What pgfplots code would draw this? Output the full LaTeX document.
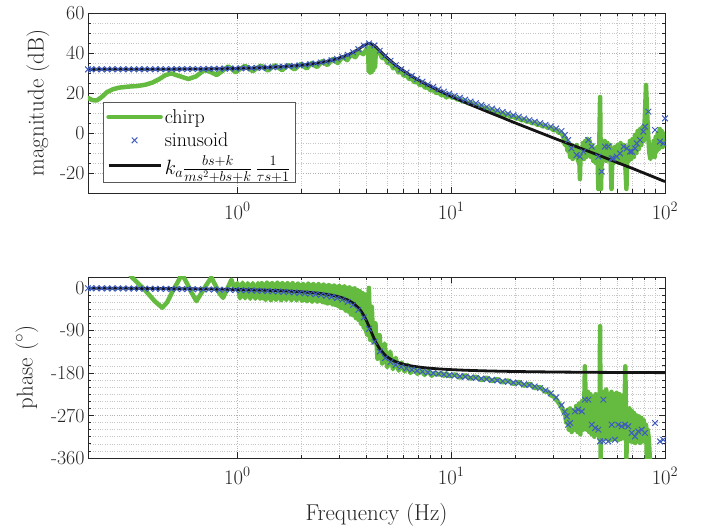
\documentclass[border=0pt]{standalone}
\usepackage{pgfplots}
\pgfplotsset{compat=1.18}
\definecolor{chirpgreen}{RGB}{101,186,64}
\definecolor{sinblue}{RGB}{62,92,190}
\definecolor{axgray}{RGB}{38,38,38}
\definecolor{modelblack}{RGB}{20,20,20}
\begin{document}
\begin{tikzpicture}
\useasboundingbox (0,0) rectangle (709bp,529bp);
% ---------------- magnitude ----------------
\begin{axis}[at={(88bp,336bp)}, anchor=south west,
  scale only axis, width=577bp, height=180bp, xmode=log, xmin=0.2, xmax=100,
  axis line style={axgray, line width=0.8bp},
  tick style={axgray, line width=0.7bp},
  major tick length=6bp, minor tick length=3.5bp, tick align=inside,
  xtick={1,10,100}, xticklabels={$10^{0}$,$10^{1}$,$10^{2}$},
  grid=both,
  major grid style={dotted, gray!60, line width=0.6bp},
  minor grid style={dotted, gray!45, line width=0.6bp},
  tick label style={font=\fontsize{20}{24}\selectfont, text=axgray},
  ymin=-30, ymax=60, ytick={-20,0,20,40,60}, yticklabels={-20,0,20,40,60},
  minor y tick num=3,
  xticklabel style={yshift=-6bp},
  ylabel={magnitude (dB)},
  every axis y label/.style={at={(axis description cs:-0.0867,0.5)}, rotate=90, anchor=center,
    font=\fontsize{23}{27}\selectfont, text=axgray},
  legend style={at={(0.026,0.056)}, anchor=south west, draw=gray!70!black, line width=0.7bp,
    fill=white, font=\fontsize{20}{24}\selectfont, inner xsep=3bp, inner ysep=5bp, row sep=4bp},
  legend cell align=left,
]
\addplot[chirpgreen, line width=4.5bp, line join=round, line cap=round,
  legend image code/.code={\draw[chirpgreen, line width=4.5bp] (0bp,0bp) -- (52bp,0bp);}] coordinates {
(0.2,17.5) (0.21,16.4) (0.22,16.3) (0.232,18.0) (0.245,20.4) (0.262,21.9) (0.28,22.7) (0.31,23.2) (0.34,23.5) (0.37,24.1) (0.40,25.2) (0.43,26.9) (0.46,28.9) (0.49,29.8)
(0.53,28.6) (0.59,27.0) (0.64,28.3) (0.70,31.5) (0.75,30.5) (0.80,29.0) (0.85,31.0) (0.906,33.3) (0.94,32.0) (0.98,30.3) (1.03,32.0) (1.085,33.6) (1.13,32.2) (1.18,30.9) (1.24,32.6) (1.29,33.7) (1.34,32.3) (1.39,31.2) (1.45,32.8) (1.50,33.9) (1.56,32.5) (1.62,31.4) (1.68,33.0) (1.73,34.1) (1.79,32.8) (1.85,31.8) (1.92,33.4) (1.98,34.5) (2.05,33.2) (2.11,32.3) (2.17,33.8) (2.23,35.0) (2.30,33.7) (2.36,33.0) (2.43,34.6) (2.49,35.9) (2.57,34.7) (2.64,34.0) (2.72,35.7) (2.79,37.0) (2.87,35.8) (2.95,35.0) (3.04,36.8) (3.12,38.0) (3.19,37.2) (3.26,36.4) (3.34,38.0) (3.41,39.3) (3.48,38.5) (3.56,37.9) (3.64,39.5) (3.72,40.8) (3.80,40.0) (3.88,39.4) (3.97,41.0) (4.06,42.6) (4.09,41.0) (4.11,31.0) (4.14,42.8) (4.17,30.2) (4.20,43.0) (4.24,30.5) (4.28,42.8) (4.32,31.5) (4.36,42.4) (4.40,33.0) (4.45,42.0)
(4.55,40.0) (4.63,40.1) (4.75,37.4) (4.91,37.5) (5.05,34.8) (5.20,35.1) (5.35,32.4) (5.51,32.9) (5.67,30.3) (5.83,30.9) (6.0,28.6) (6.18,29.1) (6.36,26.9) (6.54,27.4) (6.73,25.3) (6.93,25.85) (7.13,23.9) (7.34,24.4) (7.55,22.6) (7.78,23.0) (8.0,21.3) (8.24,21.6) (8.5,20.0) (8.73,20.3) (9.0,18.9) (9.24,19.2) (9.5,17.8) (9.79,19.0) (10.1,17.6) (10.37,18.1) (10.7,16.6) (10.98,17.1) (11.3,15.7) (11.63,16.1) (12.0,14.8) (12.32,15.2) (12.7,13.9) (13.05,14.3) (13.4,13.0) (13.83,13.4) (14.2,12.2) (14.65,12.5) (15.1,11.3) (15.52,11.6) (16.0,10.5) (16.43,10.8) (16.9,9.6) (17.41,9.9) (17.9,8.8) (18.44,9.1) (19.0,8.0) (19.53,8.3) (20.1,7.2) (20.69,7.5) (21.3,6.4) (21.92,6.6) (22.55,5.7) (23.21,5.9) (23.9,4.9) (24.59,5.1) (25.3,4.1) (26.05,4.3) (26.8,3.3) (27.59,3.5) (28.4,2.5) (29.23,2.6) (30.1,1.4) (30.96,1.6) (31.8,0.2) (32.8,0.0)
(33.5,-2) (34.0,-6) (34.5,-3) (35.0,-9) (35.5,-5) (36.0,-12) (36.5,-6) (37.0,-13) (37.5,-7) (38.0,-12) (38.6,-6) (39.2,-14) (39.6,-8) (40.0,-23) (40.3,-9) (40.8,-13) (41.3,-5) (41.8,-13) (42.3,-4) (42.8,-12) (43.3,-3) (43.8,-10) (44.4,-4) (45.0,-12) (45.6,-6) (46.2,-14) (46.8,-8) (47.5,-15) (48.2,-7) (48.8,-28) (49.2,-10) (49.7,18) (50.2,-28) (50.7,-6) (51.5,-13) (52.3,-4) (53.0,-14) (53.8,-5) (54.6,-13) (55.4,-6) (56.2,-28) (56.8,-9) (57.5,-15) (58.3,-7) (59.2,-13) (60.0,-6) (61.0,-15) (62.0,-5) (63.0,-14) (64.0,-6) (65.0,-13) (66.0,-28) (66.8,-7) (67.6,-14) (68.5,-4) (69.5,-13) (70.5,-3) (71.5,-12) (72.5,-1) (73.5,-10) (74.5,1) (75.5,-8) (76.5,2) (77.5,-6) (78.5,3) (79.5,-4) (80.5,8) (81.5,24) (82.5,10) (83.5,-2) (84.5,-10) (85.5,-13) (86.5,-6) (87.5,-11) (88.5,-4) (89.5,-12) (90.5,-2) (91.5,-9) (92.5,0) (93.5,-8) (94.5,2) (95.5,-6) (96.5,1) (97.5,-7) (98.5,0) (100,-4)
};
\addlegendentry{chirp}
\addplot[only marks, mark=x, mark size=4bp, sinblue, mark options={line width=1bp},
  legend image code/.code={\draw[sinblue, line width=1bp] plot[mark=x, mark size=4bp] coordinates {(26bp,0bp)};}] coordinates {
(0.200,31.82) (0.207,31.82) (0.219,31.82) (0.232,31.83) (0.246,31.83) (0.260,31.83) (0.276,31.84) (0.292,31.84) (0.310,31.85) (0.328,31.85) (0.347,31.86) (0.368,31.87) (0.390,31.87) (0.413,31.88) (0.437,31.89) (0.463,31.90) (0.491,31.92) (0.520,31.93) (0.551,31.95) (0.583,31.96) (0.618,31.98) (0.654,32.01) (0.693,32.03) (0.734,32.06) (0.778,32.09) (0.824,32.13) (0.872,32.17) (0.924,32.22) (0.979,32.27) (1.037,32.33) (1.098,32.40) (1.163,32.47) (1.232,32.56) (1.305,32.65) (1.383,32.76) (1.465,32.89) (1.551,33.03) (1.643,33.19) (1.741,33.38) (1.844,33.59) (1.953,33.83) (2.069,34.11) (2.192,34.43) (2.321,34.81) (2.459,35.25) (2.605,35.77) (2.759,36.39) (2.923,37.12) (3.096,38.00) (3.279,39.07) (3.473,40.36) (3.679,41.88) (3.897,43.70) (4.128,44.80) (4.373,43.80) (4.632,41.12) (4.906,38.54) (5.197,36.11) (5.505,33.91) (5.831,31.92) (6.177,30.20) (6.543,28.57) (6.931,27.05) (7.341,25.65) (7.776,24.30) (8.237,23.05) (8.725,21.84) (9.242,20.70) (9.790,19.65) (10.37,18.60) (10.98,17.62) (11.63,16.67) (12.32,15.73) (13.05,14.87) (13.83,14.00) (14.65,13.10) (15.52,12.24) (16.43,11.37) (17.41,10.50) (18.44,9.70) (19.53,8.90) (20.69,8.05) (21.92,7.20) (23.21,6.45) (24.59,5.65) (26.05,4.90) (27.59,4.10) (29.23,3.20) (30.96,2.25) (32.79,1.00) (34.0,-1.0) (35.2,-3.5) (36.5,-7.7)
(38.6,-11) (40.0,-11.8) (41.5,-9.3) (43.8,-3.5) (45.4,-6.8) (48.8,-11.8) (50.5,-19.3) (52.3,-6.8) (54.3,-6.8) (56.3,-12.7) (57.3,-12.7) (59.5,-11.8) (61.6,-10.2) (64.0,-6.8) (66.2,-7.7) (68.6,-9.3) (69.9,-9.3) (72.4,-7.7) (73.8,-5.2) (76.4,-3.5) (79.2,0.7) (80.6,3.2) (83.6,10.7) (89.8,1.5) (94.8,-4.3) (98.2,-5.2) (100,7.3)
};
\addlegendentry{sinusoid}
\addplot[modelblack, line width=2.8bp, line join=round,
  legend image code/.code={\draw[modelblack, line width=2.8bp] (0bp,0bp) -- (52bp,0bp);}] coordinates {
(0.2,31.82) (0.246,31.83) (0.310,31.85) (0.390,31.87) (0.491,31.92) (0.618,31.98) (0.778,32.09) (0.979,32.27) (1.232,32.56) (1.551,33.03) (1.953,33.83) (2.069,34.11) (2.192,34.43) (2.321,34.81) (2.459,35.25) (2.605,35.77) (2.759,36.39) (2.923,37.12) (3.096,38.00) (3.279,39.07) (3.473,40.36) (3.679,41.88) (3.8,42.9) (3.897,43.62) (4.0,44.35) (4.1,44.73) (4.2,44.70) (4.3,44.23) (4.45,42.99) (4.632,41.12) (4.906,38.54) (5.197,36.11) (5.505,33.91) (5.831,31.92) (6.177,30.11) (6.543,28.42) (6.931,26.85) (7.341,25.37) (7.776,23.95) (8.237,22.60) (8.725,21.29) (9.242,20.03) (9.790,18.80) (10.98,16.42) (12.32,14.13) (13.83,11.91) (15.52,9.74) (17.41,7.60) (19.53,5.40) (21.92,3.30) (24.59,1.20) (27.59,-0.90) (30.96,-3.00) (40,-7.5) (50,-11.5) (60,-14.85) (70,-17.6) (80,-20.1) (90,-22.3) (100,-24.3)
};
\addlegendentry{$k_a\frac{bs+k}{ms^2+bs+k}\,\frac{1}{\tau s+1}$}
\end{axis}
% ---------------- phase ----------------
\begin{axis}[at={(88bp,71bp)}, anchor=south west,
  scale only axis, width=577bp, height=181bp, xmode=log, xmin=0.2, xmax=100,
  axis line style={axgray, line width=0.8bp},
  tick style={axgray, line width=0.7bp},
  major tick length=6bp, minor tick length=3.5bp, tick align=inside,
  xtick={1,10,100}, xticklabels={$10^{0}$,$10^{1}$,$10^{2}$},
  grid=both,
  major grid style={dotted, gray!60, line width=0.6bp},
  minor grid style={dotted, gray!45, line width=0.6bp},
  tick label style={font=\fontsize{20}{24}\selectfont, text=axgray},
  ymin=-360, ymax=23, ytick={-360,-270,-180,-90,0}, yticklabels={-360,-270,-180,-90,0},
  minor y tick num=5,
  xticklabel style={yshift=-6bp},
  ylabel={phase ($^\circ$)}, xlabel={Frequency (Hz)},
  every axis y label/.style={at={(axis description cs:-0.106,0.5)}, rotate=90, anchor=center,
    font=\fontsize{23}{27}\selectfont, text=axgray},
  every axis x label/.style={at={(axis description cs:0.5,-0.315)}, anchor=center,
    font=\fontsize{23}{27}\selectfont, text=axgray},
]
\addplot[chirpgreen, line width=4.5bp, line join=round, line cap=round] coordinates {
(0.30,45) (0.32,23) (0.37,-5) (0.41,-28) (0.445,-42) (0.47,-30) (0.50,-5) (0.53,15) (0.549,30) (0.58,10) (0.61,-10) (0.643,-28) (0.68,-10) (0.72,8) (0.755,22) (0.79,5) (0.825,-12) (0.857,-21) (0.89,-5) (0.937,17) (0.97,-2)
(1.000,10) (1.028,-22) (1.057,11) (1.086,-22) (1.117,10) (1.148,-23) (1.180,10) (1.213,-23) (1.247,10) (1.275,-23)
(1.300,10) (1.318,-22) (1.337,7) (1.355,-25) (1.374,11) (1.393,-21) (1.413,8) (1.433,-26) (1.453,10) (1.473,-22) (1.494,7) (1.515,-25) (1.536,11) (1.557,-21) (1.579,8) (1.601,-26) (1.624,10) (1.646,-22) (1.669,7) (1.693,-25) (1.716,10) (1.740,-21) (1.765,7) (1.789,-26) (1.814,10) (1.840,-22) (1.866,6) (1.892,-26) (1.918,9) (1.945,-22) (1.972,6) (2.000,-27)
(2.028,8) (2.056,-25) (2.085,5) (2.114,-28) (2.144,9) (2.174,-25) (2.204,6) (2.235,-29) (2.266,8) (2.298,-26) (2.330,5) (2.363,-29) (2.396,8) (2.429,-27) (2.463,5) (2.498,-30) (2.533,7) (2.568,-31) (2.604,4) (2.641,-33) (2.678,6) (2.715,-32) (2.753,3) (2.792,-35) (2.831,5) (2.871,-36) (2.911,2) (2.952,-38) (2.993,4)
(3.035,-42) (3.077,1) (3.120,-43) (3.164,3) (3.208,-48) (3.253,0) (3.299,-50) (3.345,1) (3.392,-56) (3.440,-2) (3.488,-58) (3.537,-1) (3.586,-64) (3.636,-5) (3.687,-68) (3.739,-7) (3.791,-76) (3.844,-11) (3.898,-84) (3.953,-14) (4.008,-92) (4.05,-100)
(4.12,0) (4.18,-110) (4.25,-40) (4.32,-115) (4.42,-75) (4.52,-150) (4.62,-100) (4.75,-160) (4.88,-118) (5.02,-168) (5.18,-135) (5.34,-172) (5.5,-148) (5.68,-175) (5.86,-158) (6.05,-177) (6.25,-163) (6.45,-180) (6.7,-168) (6.95,-182) (7.2,-172) (7.5,-184) (7.8,-176) (8.1,-186) (8.4,-179)
(8.73,-184) (9.0,-180) (9.24,-186) (9.5,-181) (9.79,-187) (10.4,-183) (10.98,-190) (11.6,-185) (12.32,-192) (13.0,-188) (13.83,-195) (14.6,-190) (15.5,-197) (16.4,-193) (17.4,-200) (18.4,-196) (19.5,-203) (20.7,-199) (21.9,-207) (23.2,-203) (24.6,-212) (26.0,-210) (27.6,-220) (28.4,-219) (29.2,-227) (30.1,-230) (31.0,-236) (32.0,-245) (32.8,-252) (33.5,-262) (34.2,-270)
(34.5,-285) (35.0,-258) (35.5,-300) (36.0,-255) (36.6,-305) (37.2,-260) (37.8,-300) (38.4,-250) (39.0,-305) (39.6,-245) (40.2,-310) (40.8,-240) (41.4,-300) (42.0,-225) (42.2,-166) (42.5,-230) (43.0,-300) (43.6,-220) (44.2,-305) (44.8,-225) (45.4,-310) (46.0,-230) (46.7,-315) (47.4,-225) (48.1,-310) (48.8,-230) (49.4,-320) (49.7,-81) (50.0,-360) (50.4,-225) (51.0,-315) (51.7,-220) (52.4,-320) (53.1,-215) (53.8,-318) (54.6,-225) (55.4,-322) (56.2,-220) (57.0,-320) (57.8,-225) (58.6,-318) (59.4,-222) (60.3,-322) (61.2,-225) (62.1,-320) (63.0,-228) (63.9,-318) (64.8,-240) (65.2,-166) (65.6,-250) (66.0,-360) (66.6,-255) (67.4,-322) (68.2,-255) (69.0,-325) (69.9,-260) (70.8,-326) (71.7,-265) (72.6,-328) (73.5,-270) (74.5,-325) (75.5,-272) (76.5,-328) (77.5,-275) (78.5,-325) (79.5,-280) (80.5,-320) (81.5,-290) (82.3,-365) (83,-300) (84,-320) (85,-365)
};
\addplot[only marks, mark=x, mark size=4bp, sinblue, mark options={line width=1bp}] coordinates {
(0.200,-0.9) (0.207,-0.9) (0.219,-1.0) (0.232,-1.0) (0.246,-1.1) (0.260,-1.2) (0.276,-1.2) (0.292,-1.3) (0.310,-1.4) (0.328,-1.5) (0.347,-1.6) (0.368,-1.7) (0.390,-1.8) (0.413,-1.9) (0.437,-2.0) (0.463,-2.1) (0.491,-2.2) (0.520,-2.3) (0.551,-2.5) (0.583,-2.6) (0.618,-2.8) (0.654,-3.0) (0.693,-3.2) (0.734,-3.4) (0.778,-3.6) (0.824,-3.8) (0.872,-4.0) (0.924,-4.3) (0.979,-4.6) (1.037,-4.9) (1.098,-5.2) (1.163,-5.5) (1.232,-5.9) (1.305,-6.3) (1.383,-6.7) (1.465,-7.2) (1.551,-7.7) (1.643,-8.3) (1.741,-8.9) (1.844,-9.7) (1.953,-10.5) (2.069,-11.4) (2.192,-12.4) (2.321,-13.6) (2.459,-15.0) (2.605,-16.7) (2.759,-18.8) (2.923,-21.5) (3.096,-24.9) (3.279,-29.6) (3.473,-36.3) (3.679,-46.5) (3.897,-62.7) (4.128,-86.8) (4.373,-113.9) (4.632,-134.8) (4.906,-148.3) (5.197,-157.0) (5.505,-163.0) (5.831,-167.2) (6.177,-170.5) (6.543,-173.2) (6.931,-175.4) (7.341,-177.3) (7.776,-179.0) (8.237,-180.5) (8.725,-181.9) (9.242,-183.3) (9.790,-184.6) (10.37,-185.8) (10.98,-187.1) (11.63,-188.3) (12.32,-189.5) (13.05,-190.7) (13.83,-192.0) (14.65,-193.3) (15.52,-194.6) (16.43,-196.0) (17.41,-197.4) (18.44,-198.8) (19.53,-200.3) (20.69,-201.9) (21.92,-203.8) (23.21,-205.9) (24.59,-208.6) (26.05,-212.2) (27.59,-216.9) (29.23,-223) (30.96,-232) (32.79,-248) (34.0,-262) (34.7,-272) (36.0,-286)
(35.2,-289.5) (37.9,-261.3) (39.3,-257.7) (40.8,-261.3) (42.2,-236.5) (43.8,-236.5) (45.4,-289.5) (47.1,-296.5) (48.8,-300) (49.7,-324.8) (51.5,-236.5) (51.5,-324.8) (54.3,-324.8) (56.3,-289.5) (58.3,-321.3) (60.5,-289.5) (62.7,-293) (65.0,-289.5) (67.4,-293) (69.9,-307) (72.4,-314.3) (75.0,-303.7) (77.8,-300) (80.6,-307) (89.8,-286) (94.8,-324.8) (98.2,-321.3)
};
\addplot[modelblack, line width=2.8bp, line join=round] coordinates {
(0.2,-0.64) (0.246,-0.81) (0.310,-1.02) (0.390,-1.28) (0.491,-1.62) (0.618,-2.07) (0.778,-2.64) (0.979,-3.39) (1.232,-4.41) (1.551,-5.86) (1.953,-8.11) (2.069,-8.87) (2.192,-9.77) (2.321,-10.81) (2.459,-12.07) (2.605,-13.60) (2.759,-15.50) (2.923,-17.94) (3.096,-21.18) (3.279,-25.64) (3.473,-32.13) (3.679,-42.12) (3.8,-50.1) (3.897,-58.05) (4.0,-67.86) (4.128,-81.84) (4.2,-90) (4.3,-101.1) (4.373,-108.6) (4.45,-115.7) (4.632,-129.26) (4.906,-142.45) (5.197,-150.8) (5.505,-156.34) (5.831,-160.24) (6.177,-163.12) (6.543,-165.32) (6.931,-167.06) (7.341,-168.46) (7.776,-169.63) (8.237,-170.61) (8.725,-171.45) (9.242,-172.17) (9.790,-172.81) (10.98,-173.87) (12.32,-174.71) (13.83,-175.41) (15.52,-175.99) (17.41,-176.48) (19.53,-176.9) (24.59,-177.57) (30.96,-178.08) (40,-178.5) (50,-178.8) (60,-179.0) (80,-179.2) (100,-179.4)
};
\end{axis}
\end{tikzpicture}
\end{document}
